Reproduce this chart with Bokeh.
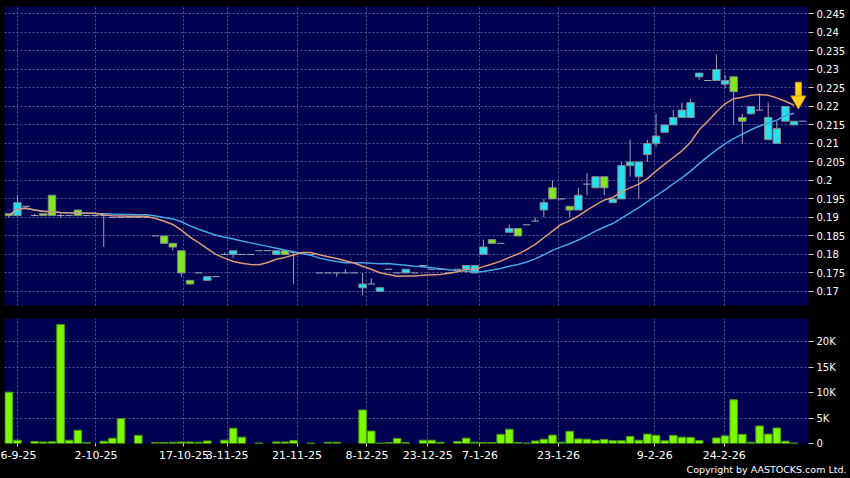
import numpy as np
import pandas as pd
from bokeh.plotting import figure
from bokeh.layouts import column
from bokeh.models import Range1d, FixedTicker, NumeralTickFormatter, Grid, Title
from bokeh.embed import file_html
from bokeh.resources import INLINE

# ---------------- data ----------------
opens = [0.191, 0.1905, 0.193, 0.1905, 0.191, 0.196, 0.1905, 0.1905, 0.192, 0.1905,
         0.1905, 0.1905, 0.190, 0.190, 0.190, 0.190, 0.190, 0.185, 0.185, 0.183,
         0.181, 0.173, 0.175, 0.173, 0.174, 0.180, 0.180, 0.180, 0.180, 0.181,
         0.181, 0.180, 0.181, 0.1805, 0.1805, 0.180, 0.175, 0.175, 0.175, 0.175,
         0.175, 0.171, 0.172, 0.170, 0.176, 0.175, 0.175, 0.175, 0.177, 0.176,
         0.176, 0.175, 0.176, 0.176, 0.175, 0.180, 0.184, 0.183, 0.186, 0.187,
         0.188, 0.189, 0.192, 0.198, 0.195, 0.193, 0.192, 0.199, 0.198, 0.201,
         0.194, 0.195, 0.204, 0.201, 0.207, 0.210, 0.213, 0.215, 0.217, 0.217,
         0.228, 0.227, 0.227, 0.226, 0.228, 0.217, 0.218, 0.219, 0.211, 0.210,
         0.216, 0.215, 0.216]
highs = [0.191, 0.196, 0.193, 0.191, 0.191, 0.196, 0.191, 0.1905, 0.192, 0.1905,
         0.1905, 0.1905, 0.190, 0.190, 0.190, 0.190, 0.190, 0.185, 0.185, 0.183,
         0.181, 0.173, 0.175, 0.174, 0.174, 0.1805, 0.181, 0.180, 0.180, 0.181,
         0.181, 0.181, 0.181, 0.181, 0.1805, 0.180, 0.175, 0.175, 0.175, 0.176,
         0.175, 0.175, 0.1735, 0.171, 0.176, 0.175, 0.176, 0.175, 0.177, 0.176,
         0.176, 0.175, 0.176, 0.177, 0.177, 0.184, 0.184, 0.183, 0.188, 0.187,
         0.188, 0.190, 0.195, 0.200, 0.195, 0.193, 0.198, 0.202, 0.201, 0.201,
         0.195, 0.205, 0.211, 0.205, 0.211, 0.218, 0.215, 0.219, 0.221, 0.222,
         0.229, 0.227, 0.234, 0.2285, 0.228, 0.218, 0.220, 0.2232, 0.221, 0.216,
         0.220, 0.216, 0.216]
lows = [0.190, 0.1905, 0.193, 0.1905, 0.1905, 0.1905, 0.190, 0.1905, 0.1905, 0.1905,
        0.1905, 0.182, 0.190, 0.190, 0.190, 0.190, 0.190, 0.185, 0.183, 0.181,
        0.174, 0.172, 0.175, 0.173, 0.174, 0.180, 0.179, 0.180, 0.180, 0.181,
        0.181, 0.180, 0.180, 0.172, 0.1805, 0.180, 0.175, 0.175, 0.174, 0.175,
        0.175, 0.169, 0.172, 0.170, 0.176, 0.175, 0.175, 0.175, 0.177, 0.176,
        0.176, 0.175, 0.176, 0.175, 0.175, 0.180, 0.183, 0.183, 0.186, 0.185,
        0.188, 0.189, 0.190, 0.195, 0.195, 0.190, 0.192, 0.196, 0.198, 0.196,
        0.194, 0.195, 0.201, 0.195, 0.205, 0.209, 0.213, 0.215, 0.217, 0.217,
        0.2272, 0.227, 0.227, 0.225, 0.215, 0.210, 0.218, 0.219, 0.211, 0.210,
        0.216, 0.215, 0.216]
closes = [0.1905, 0.194, 0.193, 0.1905, 0.1905, 0.1905, 0.1905, 0.1905, 0.1905, 0.1905,
          0.1905, 0.1905, 0.190, 0.190, 0.190, 0.190, 0.190, 0.185, 0.183, 0.182,
          0.175, 0.172, 0.175, 0.174, 0.174, 0.180, 0.181, 0.180, 0.180, 0.181,
          0.181, 0.181, 0.180, 0.1805, 0.1805, 0.180, 0.175, 0.175, 0.175, 0.175,
          0.175, 0.172, 0.172, 0.171, 0.176, 0.175, 0.176, 0.175, 0.177, 0.176,
          0.176, 0.175, 0.176, 0.177, 0.177, 0.182, 0.183, 0.183, 0.187, 0.185,
          0.188, 0.189, 0.194, 0.195, 0.195, 0.192, 0.196, 0.199, 0.201, 0.198,
          0.195, 0.204, 0.205, 0.205, 0.210, 0.212, 0.215, 0.217, 0.219, 0.221,
          0.229, 0.227, 0.230, 0.227, 0.224, 0.216, 0.220, 0.219, 0.217, 0.214,
          0.220, 0.216, 0.216]
volumes_k = [10.1, 0.65, 0, 0.4, 0.3, 0.35, 23.4, 0.65, 2.6, 0.2,
             0, 0.45, 1.05, 4.9, 0, 1.6, 0, 0.2, 0.2, 0.25,
             0.3, 0.3, 0.25, 0.5, 0, 0.65, 3.0, 1.25, 0, 0.1,
             0, 0.3, 0.3, 0.6, 0, 0.1, 0, 0.25, 0.25, 0,
             0, 6.6, 2.45, 0.1, 0.2, 1.0, 0.2, 0, 0.65, 0.65,
             0.25, 0, 0.4, 1.05, 0.25, 0.2, 0.2, 1.8, 2.8, 0.2,
             0.1, 0.5, 0.85, 1.65, 0.25, 2.4, 0.9, 0.85, 0.6, 0.8,
             0.55, 0.55, 1.4, 0.65, 1.85, 1.6, 0.55, 1.6, 1.25, 1.2,
             0.6, 0, 1.1, 1.5, 8.6, 1.8, 0.25, 3.45, 1.85, 3.05,
             0.45, 0.1, 0]

date_tick_pos = [1.05, 10.1, 20.3, 25.3, 33.4, 41.5, 48.55, 54.6, 63.7, 74.85, 82.9]
date_tick_labels = ["6-9-25", "2-10-25", "17-10-25", "3-11-25", "21-11-25", "8-12-25",
                    "23-12-25", "7-1-26", "23-1-26", "9-2-26", "24-2-26"]
price_ticks = [0.17, 0.175, 0.18, 0.185, 0.19, 0.195, 0.2, 0.205, 0.21, 0.215,
               0.22, 0.225, 0.23, 0.235, 0.24, 0.245]
volume_ticks = [0, 5000, 10000, 15000, 20000]
volume_tick_labels = ["0", "5K", "10K", "15K", "20K"]

# ---------------- derived ----------------
n = len(closes)
df = pd.DataFrame(dict(x=np.arange(n), o=opens, h=highs, l=lows, c=closes,
                       v=np.array(volumes_k) * 1000.0))
df["top"] = df[["o", "c"]].max(axis=1)
df["bot"] = df[["o", "c"]].min(axis=1)
last_traded = max(i for i, v in enumerate(volumes_k) if v > 0)
hist = df.iloc[:last_traded + 1]
ma10 = hist["c"].rolling(10, min_periods=1).mean()
ma20 = hist["c"].rolling(20, min_periods=1).mean()

BG = "#000050"
GRID = "#555590"
FONT = "DejaVu Sans"
UP = "#22e2f2"
DOWN = "#80e81e"
OUTL = "#8a8a8a"
WICK = "#a2a2b2"
BW = 0.86

x_rng = Range1d(-0.5, 92.67)
y_lo, y_hi = 0.1662, 0.2470
FRAME_H = 299

p = figure(width=850, height=311, x_range=x_rng, y_range=Range1d(y_lo, y_hi),
           output_backend="svg", toolbar_location=None, x_axis_location=None,
           y_axis_location="right", background_fill_color=BG, border_fill_color="black",
           min_border_left=4, min_border_right=42, min_border_top=6, min_border_bottom=6,
           outline_line_color=None)
p.center = [g for g in p.center if not (isinstance(g, Grid) and g.dimension == 0)]
p.add_layout(Grid(dimension=0, ticker=FixedTicker(ticks=date_tick_pos),
                  grid_line_color=GRID, grid_line_dash="2 2"), "center")
p.ygrid.ticker = FixedTicker(ticks=price_ticks)
p.ygrid.grid_line_color = GRID
p.ygrid.grid_line_dash = "2 2"

ya = p.yaxis[0]
ya.ticker = FixedTicker(ticks=price_ticks)
ya.formatter = NumeralTickFormatter(format="0.[000]")
ya.axis_line_color = None
ya.major_tick_line_color = "#d0d0d0"
ya.major_tick_out = 5
ya.major_tick_in = 0
ya.minor_tick_line_color = None
ya.major_label_text_color = "white"
ya.major_label_text_font = FONT
ya.major_label_text_font_size = "10px"
ya.major_label_standoff = 3

wk = df[df.h > df.l]
p.segment(x0=wk.x, y0=wk.h, x1=wk.x, y1=wk.l, line_color=WICK, line_width=1)
up = df[df.c > df.o]
dn = df[df.c < df.o]
fl = df[df.c == df.o]
p.vbar(x=up.x, width=BW, top=up.top, bottom=up.bot, fill_color=UP, line_color=OUTL, line_width=1)
p.vbar(x=dn.x, width=BW, top=dn.top, bottom=dn.bot, fill_color=DOWN, line_color=OUTL, line_width=1)
p.segment(x0=fl.x - BW / 2, y0=fl.c, x1=fl.x + BW / 2, y1=fl.c, line_color="#a8a8b4", line_width=1)

p.line(hist.x, ma20, line_color="#46a6e6", line_width=1.5)
p.line(hist.x, ma10, line_color="#dc9a76", line_width=1.5)

# yellow marker arrow pointing at the last 10-day average value
px = (y_hi - y_lo) / FRAME_H
ax = last_traded + 0.5
tip = float(ma10.iloc[-1])
p.rect(x=[ax], y=[tip + 16 * px], width=6, height=14, width_units="screen",
       height_units="screen", fill_color="#ffd21f", line_color="#e09a00")
p.scatter(x=[ax], y=[tip + 5 * px], marker="inverted_triangle", size=15,
          fill_color="#ffd21f", line_color="#e09a00")

# ---------------- volume panel ----------------
v = figure(width=850, height=167, x_range=x_rng, y_range=Range1d(0, 24600),
           output_backend="svg", toolbar_location=None, y_axis_location="right",
           background_fill_color=BG, border_fill_color="black",
           min_border_left=4, min_border_right=42, min_border_top=7, min_border_bottom=35,
           outline_line_color=None)
v.xgrid.ticker = FixedTicker(ticks=date_tick_pos)
v.ygrid.ticker = FixedTicker(ticks=volume_ticks)
for g in (v.xgrid, v.ygrid):
    g.grid_line_color = GRID
    g.grid_line_dash = "2 2"

vv = df[df.v > 0]
v.vbar(x=vv.x, width=0.88, top=vv.v, bottom=0, fill_color="#7cf800", line_color="#4a9a10", line_width=1)

vy = v.yaxis[0]
vy.ticker = FixedTicker(ticks=volume_ticks)
vy.major_label_overrides = dict(zip(volume_ticks, volume_tick_labels))
vx = v.xaxis[0]
vx.ticker = FixedTicker(ticks=date_tick_pos)
vx.major_label_overrides = dict(zip(date_tick_pos, date_tick_labels))
for a in (vy, vx):
    a.axis_line_color = None
    a.major_tick_line_color = "#d0d0d0"
    a.major_tick_in = 0
    a.minor_tick_line_color = None
    a.major_label_text_color = "white"
    a.major_label_text_font = FONT
vy.major_tick_out = 5
vy.major_label_standoff = 3
vy.major_label_text_font_size = "10px"
vx.major_tick_out = 3
vx.major_label_standoff = 4
vx.major_label_text_font_size = "11px"

v.add_layout(Title(text="Copyright by AASTOCKS.com Ltd.", align="right", offset=-38,
                   standoff=1, text_color="white", text_font=FONT,
                   text_font_size="9.5px", text_font_style="normal"), "below")

layout = column(p, v)
tpl = "{% block preamble %}<style>html, body { background: #000000; }</style>{% endblock %}"
open("out.html", "w").write(file_html(layout, INLINE, title="chart", template=tpl))
